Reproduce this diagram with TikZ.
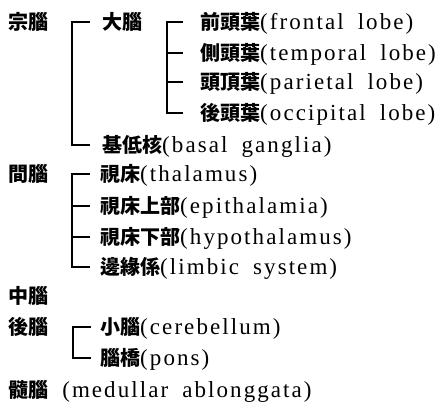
\documentclass[tikz,border=0pt]{standalone}
\usepackage{fontspec}
\setmainfont{Liberation Serif}[LetterSpace=9,WordSpace=1.8]
\newfontfamily\cjk{Noto Sans CJK KR}[Scale=0.87]
\newcommand\hj[1]{{\cjk\bfseries #1}}
\begin{document}
\begin{tikzpicture}[x=1pt,y=1pt,
  lbl/.style={anchor=base west,inner sep=0pt,font=\fontsize{23}{27}\selectfont},
  br/.style={line width=1.1pt}]
\useasboundingbox (0,0) rectangle (438,411);
\node[lbl] (jong) at (8,381) {\hj{宗腦}};
\node[lbl] (dae) at (102,381) {\hj{大腦}};
\node[lbl] (jeon) at (200,381) {\hj{前頭葉}(frontal lobe)};
\node[lbl] (cheuk) at (200,350) {\hj{側頭葉}(temporal lobe)};
\node[lbl] (dujeong) at (200,321) {\hj{頭頂葉}(parietal lobe)};
\node[lbl] (hudu) at (200,290) {\hj{後頭葉}(occipital lobe)};
\node[lbl] (giseo) at (102,258) {\hj{基低核}(basal ganglia)};
\node[lbl] (gan) at (8,229) {\hj{間腦}};
\node[lbl] (sisang) at (100,229) {\hj{視床}(thalamus)};
\node[lbl] (sisangsang) at (100,197) {\hj{視床上部}(epithalamia)};
\node[lbl] (sisangha) at (100,166) {\hj{視床下部}(hypothalamus)};
\node[lbl] (byeon) at (100,136) {\hj{邊緣係}(limbic system)};
\node[lbl] (jung) at (8,107) {\hj{中腦}};
\node[lbl] (hu) at (8,76) {\hj{後腦}};
\node[lbl] (so) at (100,76) {\hj{小腦}(cerebellum)};
\node[lbl] (nyogyo) at (100,45) {\hj{腦橋}(pons)};
\node[lbl] (su) at (8,13) {\hj{髓腦} (medullar ablonggata)};
% bracket 1
\draw[br] ([shift={(-12,8)}]dae.base west) -- ++(-18,0) |- ([shift={(-12,8)}]giseo.base west);
% bracket 2
\draw[br] ([shift={(-17,8)}]jeon.base west) -- ++(-16,0) |- ([shift={(-17,8)}]hudu.base west);
\draw[br] ([shift={(-17,8)}]cheuk.base west) -- ++(-16,0);
\draw[br] ([shift={(-17,8)}]dujeong.base west) -- ++(-16,0);
% bracket 3
\draw[br] ([shift={(-10,8)}]sisang.base west) -- ++(-18,0) |- ([shift={(-10,8)}]byeon.base west);
\draw[br] ([shift={(-10,8)}]sisangsang.base west) -- ++(-18,0);
\draw[br] ([shift={(-10,8)}]sisangha.base west) -- ++(-18,0);
% bracket 4
\draw[br] ([shift={(-9,8)}]so.base west) -- ++(-18,0) |- ([shift={(-9,8)}]nyogyo.base west);
\end{tikzpicture}
\end{document}
